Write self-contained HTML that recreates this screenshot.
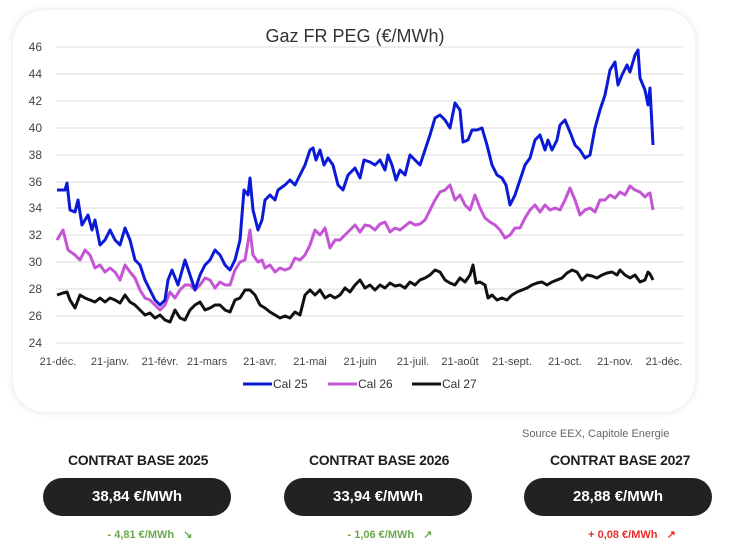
<!DOCTYPE html>
<html><head><meta charset="utf-8"><style>
body{margin:0;width:741px;height:550px;background:#fff;font-family:"Liberation Sans",sans-serif;position:relative;overflow:hidden}
.card{position:absolute;left:13px;top:10px;width:682px;height:402px;border-radius:32px;background:#fff;box-shadow:0 0 8px rgba(0,0,0,0.12)}
.h{position:absolute;top:452px;width:240px;text-align:center;font-weight:bold;font-size:14px;color:#1e1e1e;letter-spacing:-0.3px}
.pill{position:absolute;top:478px;width:188px;height:38px;border-radius:19px;background:#222;color:#fff;font-weight:bold;font-size:15px;text-align:center;line-height:38px}
.d{position:absolute;top:528px;width:240px;text-align:center;font-weight:bold;font-size:11px}
</style></head><body>
<div class="card"></div>
<svg style="position:absolute;left:0;top:0" width="741" height="420" font-family="Liberation Sans,sans-serif">
<text x="355" y="42" font-size="18" fill="#333" text-anchor="middle">Gaz FR PEG (€/MWh)</text>
<g stroke="#e2e2e2" stroke-width="1.2">
<line x1="56" x2="683" y1="47" y2="47"/><line x1="56" x2="683" y1="74" y2="74"/><line x1="56" x2="683" y1="101" y2="101"/><line x1="56" x2="683" y1="128" y2="128"/><line x1="56" x2="683" y1="155" y2="155"/><line x1="56" x2="683" y1="182" y2="182"/><line x1="56" x2="683" y1="208" y2="208"/><line x1="56" x2="683" y1="235" y2="235"/><line x1="56" x2="683" y1="262" y2="262"/><line x1="56" x2="683" y1="289" y2="289"/><line x1="56" x2="683" y1="316" y2="316"/><line x1="56" x2="683" y1="343" y2="343"/>
</g>
<g font-size="12" fill="#444" text-anchor="end">
<text x="42" y="51">46</text><text x="42" y="78">44</text><text x="42" y="105">42</text><text x="42" y="132">40</text><text x="42" y="159">38</text><text x="42" y="186">36</text><text x="42" y="212">34</text><text x="42" y="239">32</text><text x="42" y="266">30</text><text x="42" y="293">28</text><text x="42" y="320">26</text><text x="42" y="347">24</text>
</g>
<g font-size="11" fill="#444" text-anchor="middle">
<text x="58" y="365">21-déc.</text><text x="110" y="365">21-janv.</text><text x="160" y="365">21-févr.</text><text x="207" y="365">21-mars</text><text x="260" y="365">21-avr.</text><text x="310" y="365">21-mai</text><text x="360" y="365">21-juin</text><text x="413" y="365">21-juil.</text><text x="460" y="365">21-août</text><text x="512" y="365">21-sept.</text><text x="565" y="365">21-oct.</text><text x="615" y="365">21-nov.</text><text x="664" y="365">21-déc.</text>
</g>
<g font-size="12" fill="#333">
<line x1="243" x2="272" y1="384" y2="384" stroke="#0a1ad6" stroke-width="3"/><text x="273" y="388">Cal 25</text>
<line x1="328" x2="357" y1="384" y2="384" stroke="#c455d4" stroke-width="3"/><text x="358" y="388">Cal 26</text>
<line x1="412" x2="441" y1="384" y2="384" stroke="#111" stroke-width="3"/><text x="442" y="388">Cal 27</text>
</g>
<g fill="none" stroke-width="3" stroke-linejoin="round">
<polyline stroke="#111" points="57,295 63,293 67,292 70,300 75,308 80,295 85,298 90,300 95,302 100,298 105,302 110,298 115,300 120,303 125,295 130,302 135,305 140,310 145,315 150,313 155,318 160,315 165,320 170,322 175,310 180,318 185,320 190,310 195,305 200,302 205,310 210,308 215,305 220,305 225,310 230,312 235,300 240,298 245,290 250,290 255,295 260,305 265,308 270,312 275,315 280,318 285,316 290,318 295,312 300,315 305,295 310,290 315,295 320,290 325,298 330,295 335,298 340,295 345,288 350,292 355,285 360,280 365,288 370,285 375,290 380,285 385,288 390,283 395,286 400,285 405,288 410,282 415,285 420,280 425,278 430,275 435,270 440,272 445,280 450,283 455,285 460,278 465,282 470,275 473,265 476,283 480,282 485,285 488,298 492,295 497,300 502,298 507,300 512,295 517,292 522,290 527,288 532,285 537,283 542,282 547,285 552,282 557,280 562,278 567,273 572,270 577,272 582,280 587,275 592,276 597,278 602,275 607,273 612,272 617,275 620,270 625,275 630,278 635,275 640,282 645,280 648,272 650,274 653,280"/>
<polyline stroke="#c455d4" points="57,240 63,230 68,250 75,255 80,260 85,250 90,255 95,268 100,265 105,272 110,268 115,272 120,280 125,265 130,272 135,278 140,290 145,298 150,300 155,305 160,310 165,305 170,292 175,298 180,290 185,285 190,285 195,290 200,285 205,278 210,280 215,288 220,282 225,285 230,285 235,270 240,262 245,260 248,242 250,230 253,255 258,262 262,260 265,268 270,265 275,272 280,268 285,270 290,268 295,258 300,260 305,255 310,245 315,230 320,235 325,228 330,248 335,240 340,240 345,235 350,230 355,225 360,232 365,225 370,226 375,230 380,224 385,222 390,232 395,228 400,230 405,226 410,222 415,225 420,224 425,220 430,210 435,200 440,192 445,190 450,185 455,200 460,195 465,205 470,210 475,195 480,208 485,218 490,222 495,225 500,230 505,238 510,235 515,228 520,228 525,218 530,210 535,205 540,212 545,205 550,210 555,208 560,210 565,200 570,188 575,200 580,215 585,210 590,208 595,212 600,200 605,200 610,195 615,198 620,192 625,195 630,186 635,190 640,192 645,197 648,194 650,193 653,210"/>
<polyline stroke="#0a1ad6" points="57,190 65,190 67,183 70,210 75,212 78,200 82,225 88,215 92,230 95,220 100,245 105,240 110,230 115,240 120,245 125,228 130,240 135,260 140,265 145,280 150,290 155,300 160,305 165,300 168,280 172,270 178,285 185,260 190,275 195,290 200,275 205,265 210,260 215,250 220,255 225,265 230,270 235,260 240,240 244,190 248,195 250,178 253,210 258,230 262,220 265,200 270,195 275,200 278,190 285,185 290,180 295,185 300,175 305,165 310,150 313,148 316,160 320,150 324,165 328,158 333,165 338,185 343,190 348,175 355,168 360,178 364,160 370,162 375,165 380,160 385,170 388,155 392,165 396,180 400,170 405,175 410,155 415,160 420,165 425,150 430,135 435,118 440,115 445,120 450,128 455,103 460,110 463,142 468,140 472,130 477,130 482,128 487,145 492,165 497,175 502,178 506,185 510,205 515,195 520,180 525,165 530,158 535,140 540,135 545,150 548,140 552,150 557,140 560,125 565,120 570,132 575,145 580,150 585,158 590,155 595,128 600,110 605,95 610,70 615,62 618,85 622,75 627,65 630,72 635,55 638,50 640,78 645,90 648,105 650,88 653,145"/>
</g>
</svg>
<div style="position:absolute;left:522px;top:428px;font-size:11px;color:#666">Source EEX, Capitole Energie</div>
<div class="h" style="left:18px">CONTRAT BASE 2025</div>
<div class="h" style="left:259px">CONTRAT BASE 2026</div>
<div class="h" style="left:500px">CONTRAT BASE 2027</div>
<div class="pill" style="left:43px">38,84 €/MWh</div>
<div class="pill" style="left:284px">33,94 €/MWh</div>
<div class="pill" style="left:524px">28,88 €/MWh</div>
<div class="d" style="left:30px;color:#6aa84f">- 4,81 €/MWh &nbsp;&nbsp;↘</div>
<div class="d" style="left:270px;color:#6aa84f">- 1,06 €/MWh &nbsp;&nbsp;↗</div>
<div class="d" style="left:512px;color:#e8302a">+ 0,08 €/MWh &nbsp;&nbsp;↗</div>
</body></html>
